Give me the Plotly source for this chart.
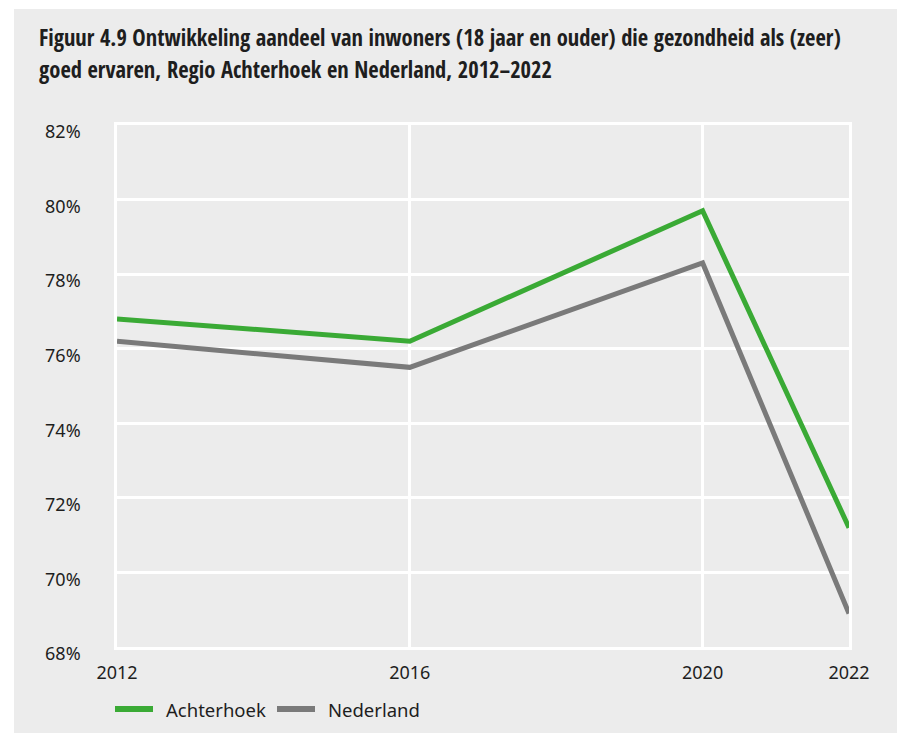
import plotly.graph_objects as go

years = [2012, 2016, 2020, 2022]
achterhoek = [76.8, 76.2, 79.7, 71.2]
nederland = [76.2, 75.5, 78.3, 68.9]
series_names = ["Achterhoek", "Nederland"]
series_colors = ["#3aaa35", "#7a7a7a"]
y_ticks = [68, 70, 72, 74, 76, 78, 80, 82]
y_tick_labels = ["68%", "70%", "72%", "74%", "76%", "78%", "80%", "82%"]
title_lines = [
    "Figuur 4.9 Ontwikkeling aandeel van inwoners (18 jaar en ouder) die gezondheid als (zeer)",
    "goed ervaren, Regio Achterhoek en Nederland, 2012\u20132022",
]

W, H = 897, 733
ML, MR, MT, MB = 117, 48, 125, 86
PW, PH = W - ML - MR, H - MT - MB

def px_x(p):  # viewport px -> paper
    return (p - ML) / PW

def px_y(p):
    return (H - MB - p) / PH

BG = "#ececec"
TXT = "#1e1e1e"
FONT = "Noto Sans, Open Sans, sans-serif"

fig = go.Figure()
for name, vals, col in zip(series_names, [achterhoek, nederland], series_colors):
    fig.add_trace(go.Scatter(x=years, y=vals, mode="lines", name=name,
                             line=dict(color=col, width=5), cliponaxis=False))

shapes = [
    dict(type="rect", xref="paper", yref="paper", x0=px_x(-5), x1=px_x(14), y0=px_y(H + 20), y1=px_y(-5),
         fillcolor="white", line=dict(width=0), layer="below"),
    dict(type="rect", xref="paper", yref="paper", x0=px_x(-5), x1=px_x(W + 5), y0=px_y(9), y1=px_y(-5),
         fillcolor="white", line=dict(width=0), layer="below"),
]

# legend (drawn manually)
leg_x = [115, 277]
for name, col, lx in zip(series_names, series_colors, leg_x):
    shapes.append(dict(type="line", xref="paper", yref="paper",
                       x0=px_x(lx), x1=px_x(lx + 38), y0=px_y(709), y1=px_y(709),
                       line=dict(color=col, width=6)))
    fig.add_annotation(text=name, xref="paper", yref="paper",
                       x=px_x(lx + 49), xanchor="left", y=px_y(709), yanchor="middle",
                       showarrow=False, font=dict(family=FONT, size=18.5, color=TXT))

fig.update_layout(
    width=W, height=H,
    margin=dict(l=ML, r=MR, t=MT, b=MB),
    paper_bgcolor=BG, plot_bgcolor=BG,
    font=dict(family=FONT, size=18, color=TXT),
    showlegend=False,
    xaxis=dict(range=[2012, 2022], tickvals=years, ticktext=[str(y) for y in years],
               showgrid=True, gridcolor="white", gridwidth=2.5, zeroline=False,
               showline=True, mirror=True, linecolor="white", linewidth=2.5,
               ticks="", ticklabelstandoff=8,
               tickfont=dict(size=18, color=TXT)),
    yaxis=dict(range=[68, 82], tickvals=y_ticks, ticktext=y_tick_labels,
               showgrid=True, gridcolor="white", gridwidth=2.5, zeroline=False,
               showline=True, mirror=True, linecolor="white", linewidth=2.5,
               ticks="", ticklabelstandoff=30, ticklabelshift=7,
               tickfont=dict(size=18, color=TXT)),
    shapes=shapes,
)

for t, base in zip(title_lines, [48, 80]):
    fig.add_annotation(text=t, xref="paper", yref="paper",
                       x=px_x(37), xanchor="left", y=px_y(base + 7), yanchor="bottom",
                       showarrow=False, align="left",
                       font=dict(family="Open Sans SemiCondensed, Open Sans Condensed, sans-serif",
                                 weight="bold", size=22.5, color=TXT))

fig.write_html("out.html", config={"displayModeBar": False},
               post_script="document.body.style.margin='0';")
